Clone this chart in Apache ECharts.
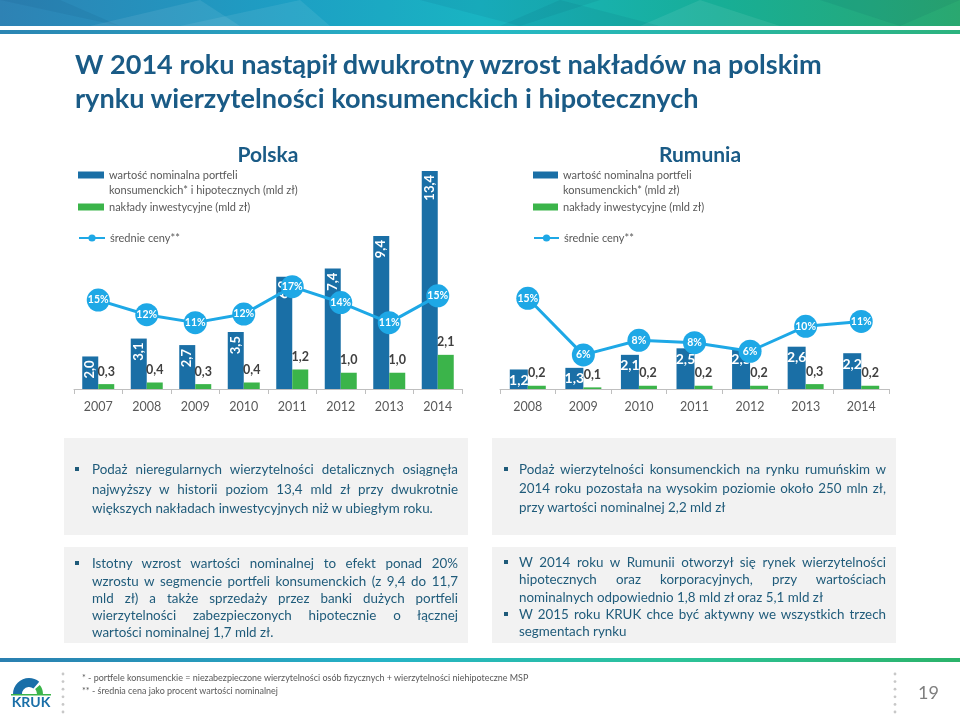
<!DOCTYPE html>
<html>
<head>
<meta charset="utf-8">
<script src="https://cdn.jsdelivr.net/npm/echarts@6/dist/echarts.min.js"></script>
<style>
html,body{margin:0;padding:0;width:960px;height:717px;overflow:hidden;background:#fff;font-family:Lato,"Noto Sans",sans-serif;}
#chart{position:absolute;left:0;top:0;width:960px;height:717px;}
#overlay{position:absolute;left:0;top:0;width:960px;height:717px;pointer-events:none;}
.title{position:absolute;left:75px;top:47px;font-weight:bold;color:#1a5b86;font-size:25px;line-height:34px;white-space:nowrap;}
.box{position:absolute;background:#f2f2f2;}
.ln{position:absolute;height:18px;line-height:18px;color:#1f5b7a;font-size:13px;}
.j{text-align:justify;text-align-last:justify;}
.l{text-align:left;white-space:nowrap;}
.bul{position:absolute;width:4px;height:4px;background:#1f5b7a;}
.fn{position:absolute;left:82px;font-size:8.5px;color:#595959;white-space:nowrap;line-height:11px;}
</style>
</head>
<body>
<div id="chart"></div>
<div id="overlay"></div>
<script>
// ---------- data ----------
const plYears = ['2007','2008','2009','2010','2011','2012','2013','2014'];
const plNominal = [2.0, 3.1, 2.7, 3.5, 6.9, 7.4, 9.4, 13.4];
const plInvest = [0.3, 0.4, 0.3, 0.4, 1.2, 1.0, 1.0, 2.1];
const plPrice = [14.6, 12.2, 10.9, 12.3, 16.8, 14.2, 10.9, 15.3];

const roYears = ['2008','2009','2010','2011','2012','2013','2014'];
const roNominal = [1.2, 1.3, 2.1, 2.5, 2.5, 2.6, 2.2];
const roInvest = [0.2, 0.1, 0.2, 0.2, 0.2, 0.3, 0.2];
const roPrice = [14.9, 5.6, 8.0, 7.6, 6.2, 10.3, 11.1];

const plNomName = 'wartość nominalna portfeli konsumenckich* i hipotecznych (mld zł)';
const roNomName = 'wartość nominalna portfeli konsumenckich* (mld zł)';
const investName = 'nakłady inwestycyjne (mld zł)';
const priceName = 'średnie ceny**';

const titleLines = ['W 2014 roku nastąpił dwukrotny wzrost nakładów na polskim',
                    'rynku wierzytelności konsumenckich i hipotecznych'];

// paragraphs: [lines], last line of each bullet is left-aligned
const box1 = [['Podaż nieregularnych wierzytelności detalicznych osiągnęła',
               'najwyższy w historii poziom 13,4 mld zł przy dwukrotnie',
               'większych nakładach inwestycyjnych niż w ubiegłym roku.']];
const box2 = [['Podaż wierzytelności konsumenckich na rynku rumuńskim w',
               '2014 roku pozostała na wysokim poziomie około 250 mln zł,',
               'przy wartości nominalnej 2,2 mld zł']];
const box3 = [['Istotny wzrost wartości nominalnej to efekt ponad 20%',
               'wzrostu w segmencie portfeli konsumenckich (z 9,4 do 11,7',
               'mld zł) a także sprzedaży przez banki dużych portfeli',
               'wierzytelności zabezpieczonych hipotecznie o łącznej',
               'wartości nominalnej 1,7 mld zł.']];
const box4 = [['W 2014 roku w Rumunii otworzył się rynek wierzytelności',
               'hipotecznych oraz korporacyjnych, przy wartościach',
               'nominalnych odpowiednio 1,8 mld zł oraz 5,1 mld zł'],
              ['W 2015 roku KRUK chce być aktywny we wszystkich trzech',
               'segmentach rynku']];
const footnotes = ['* - portfele konsumenckie = niezabezpieczone wierzytelności osób fizycznych + wierzytelności niehipoteczne MSP',
                   '** - średnia cena jako procent wartości nominalnej'];
const pageNo = '19';

// ---------- html text ----------
const ov = document.getElementById('overlay');
function el(cls, css, txt){ const d=document.createElement('div'); d.className=cls; Object.assign(d.style, css); if(txt!==undefined) d.textContent=txt; ov.appendChild(d); return d; }

const t = el('title', {});
t.innerHTML = '<span id="t1">'+titleLines[0]+'</span><br><span>'+titleLines[1]+'</span>';

const boxes = [
  {data:box1, x:64, y:438, h:97, tx:92, tw:366, bx:75, ys:[469,489,508]},
  {data:box2, x:492, y:438, h:97, tx:519, tw:367, bx:504, ys:[469,488,507]},
  {data:box3, x:64, y:547, h:96, tx:92, tw:366, bx:75, ys:[563,581,598,615,632]},
  {data:box4, x:492, y:547, h:96, tx:519, tw:367, bx:504, ys:[562,579,597,614,631]}
];
const allLines = [];
boxes.forEach(b=>{
  el('box', {left:b.x+'px', top:b.y+'px', width:'404px', height:b.h+'px'});
  let k=0;
  b.data.forEach(par=>{
    par.forEach((txt,i)=>{
      const cy = b.ys[k++];
      if(i===0) el('bul', {left:b.bx+'px', top:(cy-2)+'px'});
      const last = i===par.length-1;
      const d = el('ln '+(last?'l':'j'), {left:b.tx+'px', top:(cy-9)+'px', width:b.tw+'px'}, txt);
      allLines.push(d);
    });
  });
});
footnotes.forEach((f,i)=>{ el('fn', {top:(677+13*i-5.5)+'px'}, f); });

// fit fonts
(function(){
  const t1 = document.getElementById('t1');
  const w = t1.getBoundingClientRect().width;
  t.style.fontSize = (25*747/w).toFixed(2)+'px';
  const probe = document.createElement('span');
  probe.style.cssText='position:absolute;visibility:hidden;white-space:nowrap;font-size:13px;font-family:Lato';
  document.body.appendChild(probe);
  probe.textContent = box1[0][2];
  let fs = 13*341/probe.getBoundingClientRect().width;
  allLines.forEach(d=>{
    probe.textContent = d.textContent;
    const nw = probe.getBoundingClientRect().width;
    const max = 13*(parseFloat(d.style.width)-2)/nw;
    if(max<fs) fs=max;
  });
  allLines.forEach(d=>d.style.fontSize=fs.toFixed(2)+'px');
  probe.style.fontSize='8.5px';
  probe.textContent = footnotes[1];
  const fw = probe.getBoundingClientRect().width;
  document.querySelectorAll('.fn').forEach(d=>d.style.fontSize=(8.5*196/fw).toFixed(2)+'px');
  probe.remove();
})();

// ---------- chart ----------
const C_BLUE = '#1a6fa6', C_GREEN = '#3bb44a', C_LINE = '#1ea8e6';
const comma = v => Number(v).toFixed(1).replace('.', ',');
const chart = echarts.init(document.getElementById('chart'), null, {renderer:'canvas'});

const xAxisCommon = {
  type:'category',
  axisLine:{lineStyle:{color:'#bfbfbf', width:1}},
  axisTick:{show:true, length:5, lineStyle:{color:'#bfbfbf'}},
  axisLabel:{color:'#595959', fontSize:12.5, margin:11, fontFamily:'Lato'}
};
// two-line legend: a blank line on top keeps the first text line level with the icon
function legend(name, left, cy, two, isLine, iw){
  return {
    data:[name], left:left, top: two ? cy-22.5 : cy-7.5, padding:0, selectedMode:false,
    itemWidth: iw, itemHeight: isLine ? 9 : 7, icon: isLine ? undefined : 'rect',
    formatter: n => two ? ' \n' + n.replace('portfeli ', 'portfeli\n') : n,
    textStyle:{fontSize:11, color:'#595959', fontFamily:'Lato', lineHeight:15}
  };
}
const barLabelRot = {show:true, position:'insideTop', distance:4, rotate:90, align:'right', verticalAlign:'middle',
  color:'#fff', fontWeight:'bold', fontSize:13, fontFamily:'Lato', formatter:p=>comma(p.value)};
const barLabelFlat = {show:true, position:'insideTop', distance:4,
  color:'#fff', fontWeight:'bold', fontSize:14, fontFamily:'Lato', formatter:p=>comma(p.value)};
const investLabel = {show:true, position:'top', distance:6, color:'#404040', fontWeight:'bold', fontSize:12.5, fontFamily:'Lato', formatter:p=>comma(p.value)};
const priceSeries = (data, xi, yi) => ({
  name: priceName, type:'line', xAxisIndex:xi, yAxisIndex:yi, data:data, z:5,
  symbol:'circle', symbolSize:23, lineStyle:{color:C_LINE, width:3}, itemStyle:{color:C_LINE},
  label:{show:true, position:'inside', color:'#fff', fontWeight:'bold', fontSize:10.5, fontFamily:'Lato', formatter:p=>Math.round(p.value)+'%'},
  emphasis:{disabled:true}
});

// decorative graphics
const g = [];
g.push({type:'rect', shape:{x:0,y:0,width:960,height:26}, style:{fill:new echarts.graphic.LinearGradient(0,0,1,0,[
  {offset:0,color:'#2e82b4'},{offset:0.3,color:'#1d9fc4'},{offset:0.5,color:'#19b4c2'},{offset:0.75,color:'#17ae96'},{offset:1,color:'#2aa870'}])}});
[[0,0,120,26,60,0],[180,26,300,0,330,26],[420,0,520,26,600,0],[640,26,700,0,780,26],[820,0,900,26,960,0],[90,26,200,0,240,26],[500,26,560,0,660,26]].forEach((p,i)=>{
  g.push({type:'polygon', shape:{points:[[p[0],p[1]],[p[2],p[3]],[p[4],p[5]]]}, style:{fill: i%2 ? 'rgba(255,255,255,0.08)' : 'rgba(0,40,80,0.07)'}});
});
g.push({type:'rect', shape:{x:0,y:30,width:960,height:4}, style:{fill:new echarts.graphic.LinearGradient(0,0,1,0,[
  {offset:0,color:'#2b85b3'},{offset:0.5,color:'#25b8c8'},{offset:1,color:'#2cb37e'}])}});
g.push({type:'rect', shape:{x:0,y:658,width:960,height:4}, style:{fill:new echarts.graphic.LinearGradient(0,0,1,0,[
  {offset:0,color:'#2a7fb0'},{offset:0.4,color:'#25b3c6'},{offset:0.7,color:'#2cc39a'},{offset:1,color:'#2bb36a'}])}});
g.push({type:'text', x:268, y:155, style:{text:'Polska', font:'bold 21px Lato', fill:'#1a5b86', align:'center', verticalAlign:'middle'}});
g.push({type:'text', x:700, y:155, style:{text:'Rumunia', font:'bold 21px Lato', fill:'#1a5b86', align:'center', verticalAlign:'middle'}});
// logo
g.push({type:'sector', shape:{cx:29, cy:694, r0:7, r:16, startAngle:Math.PI, endAngle:Math.PI*1.72}, style:{fill:'#1a6fa8'}});
g.push({type:'sector', shape:{cx:29, cy:694, r0:8, r:14, startAngle:Math.PI*1.78, endAngle:Math.PI*2}, style:{fill:'#3bb44a'}});
g.push({type:'rect', shape:{x:11, y:694, width:40, height:1.5}, style:{fill:'#3bb44a'}});
g.push({type:'text', x:31, y:702, style:{text:'KRUK', font:'bold 14px Lato', fill:'#1a6fa8', align:'center', verticalAlign:'middle'}});
[63, 895].forEach(x=>{ for(let i=0;i<6;i++) g.push({type:'circle', shape:{cx:x, cy:674+i*7.6, r:1.4}, style:{fill:'#c8c8c8'}}); });
g.push({type:'text', x:918, y:693, style:{text:pageNo, font:'18px Lato', fill:'#7f7f7f', align:'left', verticalAlign:'middle'}});

chart.setOption({
  animation:false,
  textStyle:{fontFamily:'Lato'},
  grid:[{left:74, top:171, width:388, height:218}, {left:500, top:171, width:389, height:218}],
  xAxis:[Object.assign({gridIndex:0, data:plYears}, xAxisCommon), Object.assign({gridIndex:1, data:roYears}, xAxisCommon)],
  yAxis:[
    {gridIndex:0, type:'value', min:0, max:13.4, show:false},
    {gridIndex:0, type:'value', min:0, max:35.8, show:false},
    {gridIndex:1, type:'value', min:0, max:13.4, show:false},
    {gridIndex:1, type:'value', min:0, max:35.8, show:false}
  ],
  legend:[
    legend(plNomName, 78, 175, true, false, 26),
    legend(investName, 78, 207, false, false, 26),
    legend(priceName, 78, 238, false, true, 26),
    legend(roNomName, 533, 175, true, false, 25),
    legend(investName, 533, 207, false, false, 25),
    legend(priceName, 533, 238, false, true, 25)
  ],
  series:[
    {name:plNomName, type:'bar', xAxisIndex:0, yAxisIndex:0, data:plNominal, barWidth:16, itemStyle:{color:C_BLUE}, label:barLabelRot, emphasis:{disabled:true}},
    {name:investName, type:'bar', xAxisIndex:0, yAxisIndex:0, data:plInvest, barWidth:16, barGap:'0%', itemStyle:{color:C_GREEN}, label:investLabel, emphasis:{disabled:true}},
    priceSeries(plPrice, 0, 1),
    {name:roNomName, type:'bar', xAxisIndex:1, yAxisIndex:2, data:roNominal, barWidth:18, itemStyle:{color:C_BLUE}, label:barLabelFlat, emphasis:{disabled:true}},
    {name:investName, type:'bar', xAxisIndex:1, yAxisIndex:2, data:roInvest, barWidth:18, barGap:'0%', itemStyle:{color:C_GREEN}, label:investLabel, emphasis:{disabled:true}},
    priceSeries(roPrice, 1, 3)
  ],
  graphic:g
});
</script>
</body>
</html>
